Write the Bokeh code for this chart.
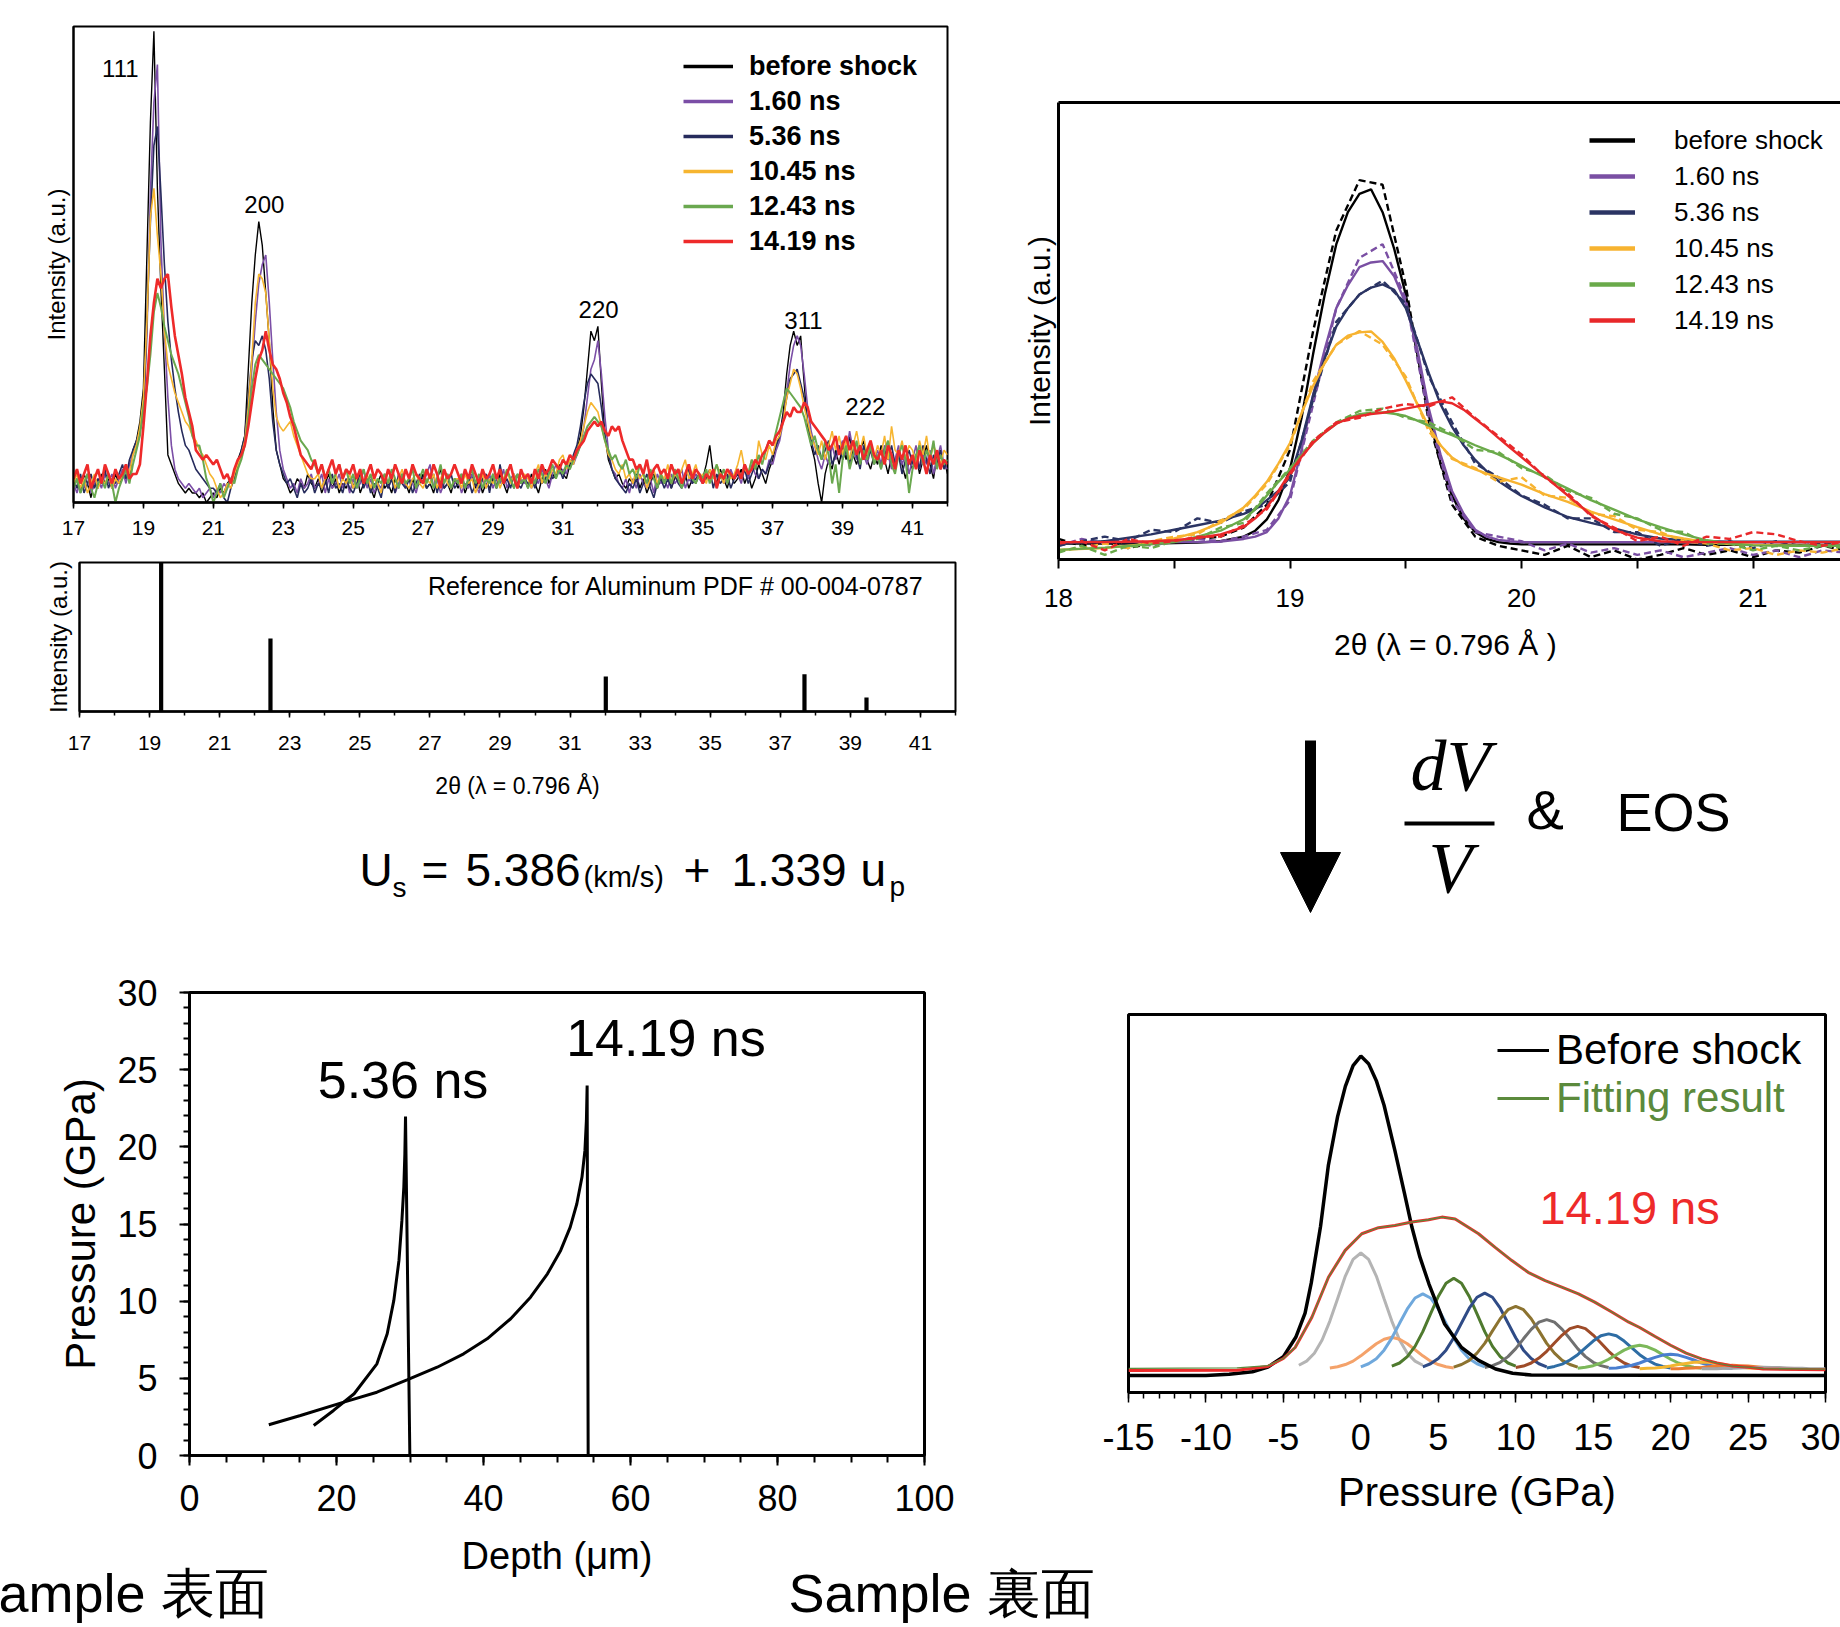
from bokeh.plotting import figure
from bokeh.models import (Range1d, FixedTicker, LinearAxis, Label, Legend, LegendItem,
                          Arrow, NormalHead, BoxAnnotation)
from bokeh.layouts import row, column
from bokeh.embed import file_html
from bokeh.resources import INLINE

FONT = "Liberation Sans"
NAN = float("nan")

# ---------------- Panel A : XRD patterns ----------------
XRD_X = [round(17 + 0.1 * i, 1) for i in range(251)]

XRD_BEFORE = [
    3, 5, 2, 6, 4, 1, 5, 3, 6, 4,
    5, 3, 6, 4, 5, 7, 5, 11, 13, 17,
    24, 52, 80, 99, 66, 45, 28, 10, 8, 6,
    4, 3, 2, 3, 2, 2, 1, 2, 0, 1,
    2, 1, 3, 2, 4, 5, 6, 9, 11, 14,
    28, 42, 52, 59, 54, 44, 34, 20, 11, 8,
    5, 4, 2, 3, 5, 4, 3, 6, 4, 3,
    5, 2, 4, 6, 3, 5, 2, 4, 3, 5,
    3, 6, 2, 4, 5, 3, 1, 4, 6, 3,
    4, 2, 5, 3, 6, 4, 2, 5, 3, 4,
    6, 3, 4, 2, 5, 7, 3, 4, 2, 5,
    3, 5, 2, 4, 6, 3, 5, 2, 4, 3,
    5, 3, 6, 4, 2, 5, 3, 6, 4, 5,
    3, 6, 4, 2, 5, 7, 4, 6, 5, 8,
    6, 5, 8, 9, 11, 14, 20, 28, 36, 34,
    37, 25, 14, 9, 7, 5, 6, 4, 3, 5,
    4, 6, 3, 5, 2, 4, 6, 3, 5, 4,
    6, 3, 5, 7, 4, 6, 3, 5, 4, 6,
    5, 8, 12, 6, 4, 7, 5, 3, 6, 4,
    5, 7, 4, 6, 3, 5, 8, 6, 4, 7,
    9, 12, 14, 19, 27, 33, 36, 33, 35, 25,
    16, 12, 9, 4, 0, 6, 9, 7, 11, 8,
    12, 9, 14, 10, 8, 11, 13, 9, 7, 10,
    8, 12, 9, 6, 10, 7, 11, 8, 5, 9,
    7, 10, 6, 9, 12, 8, 5, 10, 7, 9,
    6]

XRD_160 = [
    4, 2, 5, 3, 6, 2, 4, 5, 3, 6,
    4, 6, 3, 5, 7, 4, 8, 10, 12, 15,
    18, 35, 65, 84, 92, 55, 36, 22, 12, 7,
    5, 4, 3, 4, 3, 2, 3, 1, 2, 3,
    1, 3, 2, 4, 3, 5, 6, 8, 10, 13,
    18, 28, 38, 46, 50, 52, 42, 30, 19, 11,
    7, 5, 3, 4, 2, 5, 3, 4, 6, 3,
    4, 6, 2, 5, 3, 4, 6, 3, 5, 2,
    5, 3, 4, 7, 3, 5, 2, 4, 3, 6,
    3, 5, 2, 4, 6, 3, 5, 4, 2, 5,
    4, 6, 8, 3, 5, 2, 4, 6, 3, 4,
    5, 2, 4, 3, 6, 4, 2, 5, 3, 6,
    3, 5, 4, 7, 3, 5, 6, 3, 5, 4,
    6, 3, 5, 4, 7, 5, 3, 6, 8, 6,
    7, 6, 9, 8, 10, 12, 16, 22, 28, 30,
    34, 27, 18, 11, 7, 6, 4, 3, 5, 2,
    5, 3, 6, 4, 3, 5, 2, 6, 4, 5,
    3, 6, 4, 5, 7, 3, 5, 4, 6, 5,
    4, 6, 5, 7, 3, 6, 4, 5, 7, 5,
    6, 4, 7, 5, 8, 6, 5, 7, 6, 9,
    8, 11, 13, 17, 23, 29, 33, 35, 33, 27,
    20, 15, 12, 9, 7, 10, 8, 12, 9, 11,
    13, 10, 15, 11, 9, 12, 10, 8, 11, 9,
    11, 8, 12, 10, 7, 9, 12, 8, 10, 6,
    9, 12, 7, 10, 8, 11, 6, 9, 12, 8,
    7]

XRD_536 = [
    5, 3, 6, 2, 4, 6, 3, 5, 4, 7,
    3, 5, 4, 6, 8, 5, 9, 11, 13, 15,
    19, 38, 59, 75, 79, 65, 50, 38, 30, 24,
    19, 15, 12, 11, 9, 7, 6, 5, 4, 3,
    3, 2, 4, 1, 0, 3, 5, 8, 11, 14,
    22, 30, 34, 33, 35, 32, 26, 17, 11, 8,
    6, 4, 5, 3, 1, 4, 2, 3, 5, 2,
    4, 3, 5, 2, 6, 3, 4, 2, 5, 3,
    2, 4, 6, 3, 5, 2, 4, 3, 1, 5,
    3, 5, 2, 6, 4, 3, 5, 2, 4, 6,
    5, 3, 4, 6, 2, 5, 3, 4, 6, 3,
    4, 6, 3, 5, 2, 4, 3, 5, 6, 2,
    6, 3, 8, 4, 5, 3, 6, 4, 3, 5,
    4, 5, 3, 6, 4, 5, 7, 5, 6, 7,
    5, 8, 7, 10, 12, 16, 21, 25, 27, 26,
    25, 20, 14, 10, 7, 5, 4, 3, 2, 4,
    3, 5, 2, 4, 6, 3, 1, 4, 5, 3,
    5, 3, 6, 4, 3, 5, 7, 4, 5, 6,
    4, 5, 7, 3, 6, 4, 5, 6, 3, 5,
    6, 5, 7, 4, 6, 8, 5, 7, 6, 8,
    10, 12, 14, 18, 22, 26, 27, 28, 25, 22,
    17, 13, 10, 12, 9, 11, 13, 8, 10, 12,
    9, 11, 8, 13, 10, 7, 12, 9, 11, 8,
    10, 7, 11, 9, 12, 8, 10, 6, 9, 11,
    8, 10, 7, 12, 9, 6, 10, 8, 11, 7,
    9]

XRD_1045 = [
    4, 6, 3, 5, 2, 4, 6, 3, 5, 4,
    6, 3, 5, 4, 6, 8, 6, 10, 12, 16,
    22, 38, 60, 66, 56, 48, 36, 29, 26, 23,
    21, 19, 17, 16, 14, 13, 11, 10, 8, 6,
    5, 3, 1, 2, 4, 3, 6, 8, 10, 13,
    20, 30, 42, 48, 47, 44, 34, 24, 18, 16,
    15, 16, 17, 14, 12, 10, 8, 6, 5, 5,
    6, 3, 5, 7, 4, 6, 3, 5, 4, 6,
    3, 5, 7, 4, 6, 3, 5, 4, 2, 6,
    4, 6, 3, 5, 7, 4, 3, 5, 6, 4,
    3, 5, 4, 6, 3, 5, 7, 4, 3, 5,
    5, 3, 6, 4, 5, 2, 4, 6, 3, 5,
    4, 6, 3, 5, 7, 4, 6, 3, 5, 6,
    5, 3, 6, 8, 4, 6, 5, 7, 6, 9,
    10, 7, 9, 8, 11, 13, 16, 19, 21, 20,
    19, 16, 13, 10, 9, 7, 6, 8, 5, 6,
    4, 7, 5, 6, 3, 5, 7, 4, 6, 5,
    8, 4, 6, 5, 7, 9, 5, 6, 8, 5,
    6, 4, 7, 5, 8, 6, 4, 7, 5, 6,
    8, 11, 7, 6, 9, 7, 13, 10, 9, 12,
    10, 13, 14, 17, 22, 25, 28, 27, 24, 20,
    17, 14, 12, 10, 13, 9, 12, 15, 11, 14,
    10, 13, 9, 12, 15, 11, 14, 10, 13, 9,
    12, 10, 14, 9, 16, 11, 10, 13, 9, 12,
    11, 8, 13, 10, 14, 9, 12, 10, 8, 11,
    10]

XRD_1243 = [
    3, 5, 2, 4, 6, 3, 1, 4, 5, 3,
    6, 4, 0, 3, 5, 7, 4, 8, 11, 14,
    20, 24, 31, 40, 44, 41, 37, 34, 31, 29,
    27, 24, 21, 18, 14, 12, 12, 9, 5, 3,
    0, 2, 4, 1, 3, 5, 4, 7, 9, 12,
    18, 24, 29, 31, 30, 29, 28, 27, 26, 25,
    24, 22, 20, 17, 15, 13, 12, 11, 9, 8,
    6, 8, 5, 7, 4, 6, 8, 5, 7, 4,
    6, 3, 5, 7, 4, 6, 3, 5, 4, 6,
    4, 7, 5, 3, 6, 4, 5, 7, 3, 5,
    7, 4, 6, 3, 5, 8, 4, 6, 3, 5,
    4, 6, 3, 5, 7, 4, 6, 3, 5, 4,
    6, 3, 5, 4, 7, 5, 3, 6, 4, 5,
    3, 5, 4, 7, 6, 4, 6, 8, 5, 7,
    6, 8, 7, 9, 10, 12, 14, 16, 17, 18,
    17, 16, 13, 11, 9, 10, 8, 7, 9, 6,
    7, 5, 8, 6, 4, 7, 5, 3, 6, 4,
    6, 4, 7, 5, 3, 6, 8, 5, 4, 6,
    5, 7, 4, 6, 8, 5, 7, 4, 6, 5,
    7, 5, 8, 6, 9, 7, 10, 8, 11, 13,
    12, 15, 18, 21, 24, 23, 22, 21, 20, 18,
    15, 12, 14, 11, 9, 13, 10, 4, 8, 2,
    9, 12, 7, 10, 13, 8, 11, 9, 12, 8,
    10, 7, 11, 13, 8, 6, 10, 12, 9, 2,
    7, 10, 12, 8, 11, 9, 13, 7, 10, 8,
    9]

XRD_1419 = [
    5, 7, 4, 6, 8, 3, 5, 7, 4, 8,
    6, 4, 7, 5, 6, 8, 5, 6, 6, 8,
    16, 25, 35, 42, 47, 45, 47, 48, 41, 35,
    31, 27, 22, 19, 16, 11, 10, 9, 10, 9,
    8, 9, 7, 5, 6, 4, 7, 9, 10, 12,
    16, 21, 26, 30, 32, 36, 32, 29, 28, 26,
    23, 21, 18, 16, 13, 10, 9, 8, 7, 9,
    6, 8, 5, 7, 9, 6, 8, 5, 7, 6,
    8, 5, 7, 4, 6, 8, 5, 7, 6, 4,
    7, 5, 8, 6, 4, 7, 5, 8, 6, 5,
    4, 7, 5, 8, 6, 3, 7, 5, 6, 8,
    6, 4, 7, 5, 8, 6, 4, 7, 5, 6,
    8, 5, 7, 4, 6, 8, 5, 3, 7, 5,
    6, 4, 7, 5, 8, 6, 7, 9, 8, 7,
    9, 8, 10, 9, 11, 12, 13, 15, 16, 17,
    16, 17, 15, 14, 16, 15, 16, 13, 11, 9,
    9, 7, 8, 6, 9, 5, 7, 8, 6, 7,
    5, 8, 6, 7, 4, 6, 8, 5, 7, 6,
    4, 6, 5, 7, 3, 6, 5, 7, 6, 5,
    7, 5, 8, 6, 7, 9, 8, 10, 11, 13,
    12, 14, 15, 17, 19, 18, 20, 19, 19, 21,
    20, 17, 16, 15, 14, 13, 11, 12, 14, 10,
    12, 14, 11, 13, 10, 12, 9, 11, 13, 10,
    9, 11, 8, 12, 10, 7, 11, 9, 12, 8,
    10, 7, 11, 9, 6, 10, 8, 11, 7, 9,
    8]

SERIES_NAMES = ["before shock", "1.60 ns", "5.36 ns", "10.45 ns", "12.43 ns", "14.19 ns"]
SERIES_COLORS = ["#000000", "#7b4ea6", "#262b5c", "#f6b530", "#6aa84f", "#ee2a2a"]

PEAK_LABELS = ["111", "200", "220", "311", "222"]
PEAK_LABEL_X = [18.34, 22.46, 32.02, 37.88, 39.65]
PEAK_LABEL_Y = [91.2, 62.6, 40.5, 38.2, 20.2]

# ---------------- Panel B : reference pattern ----------------
REF_2THETA = [19.33, 22.45, 32.02, 37.69, 39.46]
REF_INTENSITY = [100, 49, 23.5, 25, 9.4]

# ---------------- Panel C : 111 peak, fits (solid) and data (dashed) ----------------
FIT_X = [18.0, 18.2, 18.4, 18.5, 18.6, 18.7, 18.8, 18.85, 18.9, 18.95, 19.0, 19.05, 19.1, 19.15,
         19.2, 19.25, 19.3, 19.35, 19.4, 19.45, 19.5, 19.55, 19.6, 19.65, 19.7, 19.75, 19.8,
         19.85, 19.9, 19.95, 20.0, 20.1, 20.2, 20.3, 20.4, 20.5, 20.6, 20.7, 20.8, 20.9, 21.0,
         21.2, 21.4]
FIT_BEFORE = [3.5, 3.5, 3.5, 3.6, 3.7, 4.0, 5.0, 6.3, 8.8, 13, 19.8, 31, 45, 58, 69, 76, 80, 81,
              76, 68, 58, 45, 31.5, 21, 14, 9, 6, 4.5, 3.8, 3.5, 3.3, 3.3, 3.3, 3.3, 3.3, 3.3,
              3.3, 3.3, 3.2, 3.2, 3.2, 3.2, 3.2]
FIT_160 = [3.8, 3.8, 3.8, 3.8, 3.8, 3.9, 4.5, 5.0, 6.0, 9, 14, 24, 36, 46, 55, 60, 64, 65, 65.3,
           62, 56, 46, 33, 23, 15, 10, 6.5, 5, 4.3, 4, 3.8, 3.8, 3.8, 3.8, 3.8, 3.8, 3.8, 3.8,
           3.8, 3.8, 3.8, 3.8, 3.8]
FIT_536 = [3.5, 4, 5.5, 6.5, 7.5, 8.5, 10, 11, 13, 15, 18, 26, 36, 44, 51, 55, 58, 59.5, 60.2, 59,
           55, 48, 40.7, 34, 29, 25, 21.8, 19.3, 17.2, 15.5, 13.9, 11.4, 9.3, 8, 6.8, 5.5, 4.6,
           4.2, 4, 3.9, 3.9, 3.9, 3.9]
FIT_1045 = [2.1, 2.5, 3.5, 4.6, 6, 8, 11.4, 14, 17, 21, 25.5, 32, 38, 43, 47, 49, 49.7, 49.9,
            47.6, 44, 39.2, 34, 29, 25, 22.3, 20.7, 19.7, 18.8, 18, 17.2, 16.4, 14.3, 12.6,
            10.5, 8.8, 7.1, 5.5, 4.6, 3.8, 3.4, 3.2, 3, 3]
FIT_1243 = [2.1, 2.6, 3.3, 3.8, 5, 6.3, 8.8, 11, 14, 17, 19.7, 22.8, 25.5, 27.8, 29.7, 30.9, 31.8,
            32.1, 32.2, 31.9, 31.4, 30.4, 29.3, 28.2, 27.2, 26.1, 25, 24, 23, 21.8, 20.5, 18,
            15.5, 13, 10.9, 8.8, 7.1, 5.5, 4.2, 3.5, 3.1, 3, 3]
FIT_1419 = [3.8, 3.8, 4.0, 4.2, 4.7, 5.5, 7.1, 9, 11.4, 15, 19, 22.5, 25.5, 27.8, 29.7, 30.8,
            31.4, 31.8, 32.1, 32.5, 33, 33.5, 34, 34.6, 34.2, 32.8, 30.8, 28.8, 26.6, 24.5,
            22.4, 18.2, 14, 9.8, 6.5, 4.8, 4, 3.8, 3.8, 3.8, 3.8, 3.8, 3.8]

OBS_X = [round(18 + 0.1 * i, 1) for i in range(35)]
OBS_BEFORE = [4.5, 3, 4, 2.5, 3.5, 4, 4.5, 5, 7, 12, 24, 50, 72, 83, 82, 60, 30, 12, 5, 3, 2, 1,
              3, 0.5, 2, 0, 1, 2.5, 1, 2, 0.5, 2, 1.5, 3, 2]
OBS_160 = [3, 4.5, 3.5, 4.5, 3, 4, 4.5, 4, 5, 6.5, 13, 34, 55, 66, 69, 57, 31, 13, 6, 5, 4, 2,
           3.5, 1.5, 2.5, 1, 2, 0.5, 1.5, 2.5, 1, 2, 0.5, 2, 1.5]
OBS_536 = [3, 4, 5, 4, 6.5, 6, 9, 8, 10.5, 12, 17, 35, 52, 58, 61, 56, 40, 30, 21, 18, 14, 12, 9,
           9, 6, 6, 3, 4.5, 3, 4, 2.5, 4, 3, 3.5, 3]
OBS_1045 = [2, 2.5, 3.5, 2.5, 4, 5, 5.5, 8.5, 11, 16.5, 25, 39, 47, 50, 47, 40, 28, 22, 20, 17,
            18, 14, 13.5, 10, 9.5, 6.5, 6, 4, 3.5, 2, 2.5, 1, 2, 1.5, 2.5]
OBS_1243 = [1.5, 3, 1, 3, 2.5, 4, 4.5, 7, 8, 14.5, 20, 26, 30, 32.5, 33, 31, 30, 27.5, 24, 23.5,
            20, 18.5, 15, 13.5, 10, 9, 6.5, 6, 3.5, 3.5, 2, 3, 2, 3, 2.5]
OBS_1419 = [3.5, 4, 2, 4.5, 3.5, 4, 5, 5, 7.5, 11, 18.5, 26, 30, 31, 33, 34, 33.5, 35.5, 31, 27,
            23, 18, 14.5, 9.5, 7, 4, 5, 3, 5, 4.5, 6, 5.5, 4, 3, 4]

C_COLORS = ["#000000", "#7a4fa3", "#2b3463", "#f7b330", "#6aaa4a", "#e8282a"]

# ---------------- Panel D : pressure vs depth ----------------
P536_DEPTH = [16.9, 19.6, 22.4, 25.5, 26.9, 27.8, 28.5, 28.9, 29.16, 29.3, 29.39, 29.98]
P536_PRESS = [1.94, 2.92, 4.0, 5.94, 7.89, 10.05, 12.64, 15.23, 17.39, 19.55, 21.97, 0.0]
P1419_DEPTH = [10.79, 15.1, 21.0, 25.5, 29.6, 33.7, 37.3, 40.5, 43.7, 46.4, 48.7, 50.5, 51.8,
               52.7, 53.4, 53.8, 54.0, 54.1, 54.24]
P1419_PRESS = [1.99, 2.59, 3.46, 4.1, 4.9, 5.72, 6.59, 7.56, 8.86, 10.26, 11.77, 13.29, 14.8,
               16.31, 18.04, 19.77, 21.71, 23.98, 0.0]

# ---------------- Panel E : pressure distribution ----------------
E_BEFORE_X = [-15, -10, -8.5, -7, -6, -5, -4.2, -3.6, -3.2, -2.6, -2.1, -1.5, -1, -0.5, 0, 0.5,
              1, 1.5, 2.2, 2.8, 3.3, 3.8, 4.4, 5.4, 6.5, 7.6, 8.7, 9.8, 11, 30]
E_BEFORE_Y = [4.5, 4.5, 4.8, 5.5, 6.7, 9.5, 14.6, 21, 29, 44, 60, 73, 81, 86.5, 89, 87, 82.5,
              76, 64, 53, 43.7, 36, 28.7, 18.2, 11.9, 8.5, 6.2, 5.1, 4.6, 4.5]
E_FIT_X = [-15, -8, -6, -5, -4.24, -3.16, -2.09, -1.01, 0.06, 1.14, 2.2, 3.29, 4.37, 5.23, 6.09,
           7.6, 8.67, 9.75, 10.8, 11.9, 12.97, 14.05, 15.1, 16.2, 17.3, 18, 19, 20, 21, 22, 23,
           24, 25, 26, 30]
E_FIT_Y = [6.4, 6.5, 7.1, 9, 11.9, 19.9, 30.5, 37.6, 42, 43.6, 44.2, 45.1, 45.7, 46.4, 45.9, 42,
           38.4, 34.9, 31.8, 29.6, 27.9, 26.1, 23.9, 21.3, 18.6, 17.2, 14.8, 12.5, 10.4, 8.9,
           7.8, 7, 6.7, 6.3, 6.2]
E_DATA_Y = [5.8, 5.9, 6.9, 9, 11.9, 19.9, 30.5, 37.6, 42, 43.6, 44.2, 45.1, 45.7, 46.4, 45.9,
            42, 38.4, 34.9, 31.8, 29.6, 27.9, 26.1, 23.9, 21.3, 18.6, 17.2, 14.8, 12.5, 10.4,
            8.9, 7.8, 7, 6.7, 6.2, 6.0]

COMP_OFFSETS = [-4, -3.5, -3, -2.5, -2, -1.5, -1, -0.5, 0, 0.5, 1, 1.5, 2, 2.5, 3, 3.5, 4]
COMP_CENTERS = [0, 2, 4, 6, 8, 10, 12, 14, 16, 18, 20, 22, 24, 26]
COMP_VALUES = [
    [7.2, 8.3, 10.4, 13.9, 18.9, 24.8, 30.8, 35.2, 36.9, 35.2, 30.8, 24.8, 18.9, 13.9, 10.4, 8.3, 7.2],
    [6.5, 6.8, 7.4, 8.3, 9.7, 11.3, 12.9, 14.1, 14.6, 14.1, 12.9, 11.3, 9.7, 8.3, 7.4, 6.8, 6.5],
    [6.8, 7.6, 8.9, 11.2, 14.4, 18.3, 22.1, 25.0, 26.1, 25.0, 22.1, 18.3, 14.4, 11.2, 8.9, 7.6, 6.8],
    [7.0, 7.8, 9.5, 12.2, 16.1, 20.8, 25.4, 28.9, 30.2, 28.9, 25.4, 20.8, 16.1, 12.2, 9.5, 7.8, 7.0],
    [6.8, 7.6, 9.0, 11.2, 14.5, 18.4, 22.3, 25.2, 26.3, 25.2, 22.3, 18.4, 14.5, 11.2, 9.0, 7.6, 6.8],
    [6.7, 7.4, 8.5, 10.4, 13.0, 16.3, 19.5, 21.9, 22.8, 21.9, 19.5, 16.3, 13.0, 10.4, 8.5, 7.4, 6.7],
    [6.6, 7.1, 8.0, 9.5, 11.6, 14.2, 16.7, 18.6, 19.3, 18.6, 16.7, 14.2, 11.6, 9.5, 8.0, 7.1, 6.6],
    [6.6, 7.0, 7.8, 9.1, 10.9, 13.1, 15.2, 16.9, 17.5, 16.9, 15.2, 13.1, 10.9, 9.1, 7.8, 7.0, 6.6],
    [6.5, 6.9, 7.5, 8.6, 10.0, 11.8, 13.6, 15.0, 15.5, 15.0, 13.6, 11.8, 10.0, 8.6, 7.5, 6.9, 6.5],
    [6.4, 6.7, 7.1, 7.8, 8.8, 10.0, 11.2, 12.1, 12.5, 12.1, 11.2, 10.0, 8.8, 7.8, 7.1, 6.7, 6.4],
    [6.4, 6.5, 6.8, 7.2, 7.8, 8.6, 9.3, 9.9, 10.1, 9.9, 9.3, 8.6, 7.8, 7.2, 6.8, 6.5, 6.4],
    [6.3, 6.4, 6.5, 6.7, 7.0, 7.4, 7.7, 8.0, 8.1, 8.0, 7.7, 7.4, 7.0, 6.7, 6.5, 6.4, 6.3],
    [6.3, 6.3, 6.4, 6.5, 6.6, 6.8, 7.0, 7.1, 7.2, 7.1, 7.0, 6.8, 6.6, 6.5, 6.4, 6.3, 6.3],
    [6.3, 6.3, 6.3, 6.4, 6.4, 6.5, 6.6, 6.6, 6.7, 6.6, 6.6, 6.5, 6.4, 6.4, 6.3, 6.3, 6.3],
]
COMP_COLORS = ["#b4b4b4", "#f4a26a", "#6fa8dc", "#4f7a2e", "#2f4b86", "#8c7330", "#707070",
               "#9e4b28", "#2e6da4", "#7cb85a", "#4a7ecf", "#f2b630", "#ec7c30", "#a5a5a5"]


# ---------------- helpers ----------------
def base_fig(**kw):
    p = figure(toolbar_location=None, output_backend="svg", **kw)
    p.grid.visible = False
    p.background_fill_color = "white"
    p.border_fill_color = "white"
    return p


def blank_fig(width, height, xr, yr):
    p = base_fig(width=width, height=height, x_range=Range1d(*xr), y_range=Range1d(*yr),
                 x_axis_type=None, y_axis_type=None, min_border_left=0, min_border_right=0,
                 min_border_top=0, min_border_bottom=0)
    p.outline_line_color = None
    return p


def style_axis(ax, size, tick_out=6, minor_out=4, width=1.5, standoff=5, axis_width=2):
    ax.major_label_text_font = FONT
    ax.major_label_text_font_size = size
    ax.major_label_text_color = "black"
    ax.major_tick_in = 0
    ax.minor_tick_in = 0
    ax.major_tick_out = tick_out
    ax.minor_tick_out = minor_out
    ax.major_tick_line_color = "black"
    ax.minor_tick_line_color = "black"
    ax.major_tick_line_width = width
    ax.minor_tick_line_width = width
    ax.axis_line_color = "black"
    ax.axis_line_width = axis_width
    ax.major_label_standoff = standoff
    ax.axis_label_text_font = FONT
    ax.axis_label_text_font_style = "normal"
    ax.axis_label_text_color = "black"


def no_ticks(ax):
    ax.ticker = FixedTicker(ticks=[])
    ax.major_tick_line_color = None
    ax.minor_tick_line_color = None
    ax.major_label_text_font_size = "0px"


def label(p, x, y, text, size, align="center", baseline="middle", color="black",
          font=FONT, style="normal"):
    p.add_layout(Label(x=x, y=y, text=text, text_font=font, text_font_size=size,
                       text_align=align, text_baseline=baseline, text_color=color,
                       text_font_style=style))


def solo(p):
    # each plot in its own container, so that frames are not aligned across plots
    return column(p)


# ---------------- Panel A ----------------
pA = base_fig(width=1000, height=545, x_range=Range1d(17, 42), y_range=Range1d(0, 100),
              min_border_left=73, min_border_right=53, min_border_top=26, min_border_bottom=43)
pA.outline_line_color = "black"
pA.outline_line_width = 2
style_axis(pA.xaxis[0], "21px", standoff=12, axis_width=2.5)
pA.xaxis[0].ticker = FixedTicker(ticks=list(range(17, 42, 2)), minor_ticks=list(range(17, 43)))
style_axis(pA.yaxis[0], "0px")
no_ticks(pA.yaxis[0])
pA.yaxis[0].axis_label = "Intensity (a.u.)"
pA.yaxis[0].axis_label_text_font_size = "24px"
pA.yaxis[0].axis_label_standoff = 4

a_series = [XRD_BEFORE, XRD_160, XRD_536, XRD_1045, XRD_1243, XRD_1419]
a_widths = [1.4, 1.6, 1.6, 1.6, 2.0, 2.6]
a_items = []
for name, ys, col, lw in zip(SERIES_NAMES, a_series, SERIES_COLORS, a_widths):
    pA.line(XRD_X, ys, line_color=col, line_width=lw)
    proxy = pA.line([NAN], [NAN], line_color=col, line_width=3.5)
    a_items.append(LegendItem(label=name, renderers=[proxy]))
legA = Legend(items=a_items, location=(610, 244), glyph_width=50, glyph_height=34,
              label_height=34, spacing=1, padding=0, margin=0, label_standoff=16,
              border_line_color=None, background_fill_alpha=0,
              label_text_font=FONT, label_text_font_size="27px",
              label_text_font_style="bold", label_text_color="black")
pA.add_layout(legA)
for t, x, y in zip(PEAK_LABELS, PEAK_LABEL_X, PEAK_LABEL_Y):
    label(pA, x, y, t, "24px")

# ---------------- Panel B ----------------
pB = base_fig(width=1000, height=267, x_range=Range1d(17, 42), y_range=Range1d(0, 100),
              min_border_left=79, min_border_right=45, min_border_top=17, min_border_bottom=101)
pB.outline_line_color = "black"
pB.outline_line_width = 2
style_axis(pB.xaxis[0], "21px", standoff=18, axis_width=2.5)
pB.xaxis[0].ticker = FixedTicker(ticks=list(range(17, 42, 2)), minor_ticks=list(range(17, 43)))
pB.xaxis[0].axis_label = "2θ (λ = 0.796 Å)"
pB.xaxis[0].axis_label_text_font_size = "23px"
pB.xaxis[0].axis_label_standoff = 20
style_axis(pB.yaxis[0], "0px")
no_ticks(pB.yaxis[0])
pB.yaxis[0].axis_label = "Intensity (a.u.)"
pB.yaxis[0].axis_label_text_font_size = "24px"
pB.yaxis[0].axis_label_standoff = 8
pB.vbar(x=REF_2THETA, top=REF_INTENSITY, bottom=0, width=0.12, fill_color="black",
        line_color=None)
label(pB, 41.1, 84.2, "Reference for Aluminum PDF # 00-004-0787", "25px", align="right")

# ---------------- Equation (page pixel coordinates) ----------------
pEq = blank_fig(1000, 118, (0, 1000), (930, 812))
label(pEq, 359, 869, "U", "46px", align="left")
label(pEq, 392, 887, "s", "28px", align="left")
label(pEq, 421, 869, "=", "46px", align="left")
label(pEq, 465, 869, "5.386", "46px", align="left")
label(pEq, 583, 876.5, "(km/s)", "29px", align="left")
label(pEq, 683, 869, "+", "46px", align="left")
label(pEq, 731, 869, "1.339", "46px", align="left")
label(pEq, 860, 869, "u", "46px", align="left")
label(pEq, 889, 886, "p", "28px", align="left")

# ---------------- Panel C ----------------
pC = base_fig(width=840, height=675, x_range=Range1d(18, 18 + 782 / 231.5),
              y_range=Range1d(0, 100),
              min_border_left=58, min_border_right=0, min_border_top=102, min_border_bottom=116)
pC.outline_line_color = None
style_axis(pC.xaxis[0], "26px", tick_out=9, minor_out=9, width=2, standoff=20, axis_width=3)
pC.xaxis[0].ticker = FixedTicker(ticks=[18, 19, 20, 21], minor_ticks=[18.5, 19.5, 20.5, 21.5])
pC.xaxis[0].axis_label = "2θ (λ = 0.796  Å )"
pC.xaxis[0].axis_label_text_font_size = "30px"
pC.xaxis[0].axis_label_standoff = 18
style_axis(pC.yaxis[0], "0px", axis_width=3)
no_ticks(pC.yaxis[0])
pC.yaxis[0].axis_label = "Intensity (a.u.)"
pC.yaxis[0].axis_label_text_font_size = "30px"
pC.yaxis[0].axis_label_standoff = 3
topC = LinearAxis(axis_line_width=3, axis_line_color="black")
no_ticks(topC)
pC.add_layout(topC, "above")

c_fits = [FIT_BEFORE, FIT_160, FIT_536, FIT_1045, FIT_1243, FIT_1419]
c_obs = [OBS_BEFORE, OBS_160, OBS_536, OBS_1045, OBS_1243, OBS_1419]
c_items = []
for name, fy, oy, col in zip(SERIES_NAMES, c_fits, c_obs, C_COLORS):
    pC.line(OBS_X, oy, line_color=col, line_width=2.4, line_dash="7 4")
    pC.line(FIT_X, fy, line_color=col, line_width=2.4)
    proxy = pC.line([NAN], [NAN], line_color=col, line_width=4.5)
    c_items.append(LegendItem(label=name, renderers=[proxy]))
legC = Legend(items=c_items, location=(531, 222), glyph_width=46, glyph_height=34,
              label_height=34, spacing=2, padding=0, margin=0, label_standoff=39,
              border_line_color=None, background_fill_alpha=0,
              label_text_font=FONT, label_text_font_size="26px", label_text_color="black")
pC.add_layout(legC)

# ---------------- Arrow + dV/V & EOS (page pixel coordinates) ----------------
pAr = blank_fig(840, 255, (1000, 1840), (930, 675))
pAr.add_layout(Arrow(end=NormalHead(size=60, fill_color="black", line_color="black"),
                     x_start=1310, y_start=740, x_end=1310, y_end=912,
                     line_width=11, line_color="black"))
label(pAr, 1450, 765, "dV", "72px", font="Liberation Serif", style="italic")
pAr.add_layout(BoxAnnotation(left=1404, right=1494, top=821, bottom=825,
                             fill_color="black", fill_alpha=1, line_color=None))
label(pAr, 1450, 867, "V", "72px", font="Liberation Serif", style="italic")
label(pAr, 1526, 809, "&", "56px", align="left")
label(pAr, 1616, 811, "EOS", "54px", align="left")

# ---------------- Panel D ----------------
pD = base_fig(width=1096, height=595, x_range=Range1d(0, 100), y_range=Range1d(0, 30),
              min_border_left=189, min_border_right=172, min_border_top=62, min_border_bottom=70)
pD.outline_line_color = "black"
pD.outline_line_width = 3
style_axis(pD.xaxis[0], "36px", tick_out=10, minor_out=7, width=2, standoff=19, axis_width=3)
pD.xaxis[0].ticker = FixedTicker(ticks=[0, 20, 40, 60, 80, 100], minor_ticks=list(range(0, 101, 5)))
style_axis(pD.yaxis[0], "36px", tick_out=10, minor_out=6, width=2, standoff=22, axis_width=3)
pD.yaxis[0].ticker = FixedTicker(ticks=[0, 5, 10, 15, 20, 25, 30], minor_ticks=list(range(0, 31)))
pD.yaxis[0].axis_label = "Pressure (GPa)"
pD.yaxis[0].axis_label_text_font_size = "42px"
pD.yaxis[0].axis_label_standoff = 10
pD.line(P536_DEPTH, P536_PRESS, line_color="black", line_width=3)
pD.line(P1419_DEPTH, P1419_PRESS, line_color="black", line_width=3)
label(pD, 29.05, 24.33, "5.36 ns", "52px")
label(pD, 64.82, 27.06, "14.19 ns", "52px")

# texts under panel D (page pixel coordinates)
pS = blank_fig(1096, 100, (0, 1096), (1625, 1525))
label(pS, 556.5, 1555, "Depth (μm)", "38px")
label(pS, 268, 1592, "Sample 表面", "54px", align="right")
label(pS, 1094, 1592, "Sample 裏面", "54px", align="right")

# ---------------- Panel E ----------------
pE = base_fig(width=744, height=695, x_range=Range1d(-15, 30), y_range=Range1d(0, 100),
              y_axis_type=None,
              min_border_left=32, min_border_right=15, min_border_top=84, min_border_bottom=233)
pE.outline_line_color = "black"
pE.outline_line_width = 3
style_axis(pE.xaxis[0], "36px", tick_out=10, minor_out=6, width=1.5, standoff=21, axis_width=3)
pE.xaxis[0].ticker = FixedTicker(ticks=list(range(-15, 31, 5)), minor_ticks=list(range(-15, 31)))
pE.xaxis[0].major_label_overrides = {-15: "-15", -10: "-10", -5: "-5"}
pE.xaxis[0].axis_label = "Pressure (GPa)"
pE.xaxis[0].axis_label_text_font_size = "40px"
pE.xaxis[0].axis_label_standoff = 17

for c, vals, col in zip(COMP_CENTERS, COMP_VALUES, COMP_COLORS):
    pE.line([c + o for o in COMP_OFFSETS], vals, line_color=col, line_width=3)
pE.line(E_BEFORE_X, E_BEFORE_Y, line_color="black", line_width=3.5)
pE.line(E_FIT_X, E_DATA_Y, line_color="#ee2a2a", line_width=3)
pE.line(E_FIT_X, E_FIT_Y, line_color="#5b8a3c", line_width=1.3)
proxy_b = pE.line([NAN], [NAN], line_color="black", line_width=3)
proxy_f = pE.line([NAN], [NAN], line_color="#5b8a3c", line_width=3)
for item_label, prox, vy, col in [("Before shock", proxy_b, 318, "black"),
                                  ("Fitting result", proxy_f, 270, "#5b8a3c")]:
    pE.add_layout(Legend(items=[LegendItem(label=item_label, renderers=[prox])],
                         location=(369, vy), glyph_width=52, glyph_height=46, label_height=46,
                         padding=0, margin=0, label_standoff=7, border_line_color=None,
                         background_fill_alpha=0, label_text_font=FONT,
                         label_text_font_size="42px", label_text_color=col))
label(pE, 11.53, 48.94, "14.19 ns", "47px", align="left", color="#ee2a2a")

layout = column(
    row(column(solo(pA), solo(pB), solo(pEq)), column(solo(pC), solo(pAr))),
    row(column(solo(pD), solo(pS)), solo(pE)),
)

with open("out.html", "w") as f:
    f.write(file_html(layout, INLINE))
